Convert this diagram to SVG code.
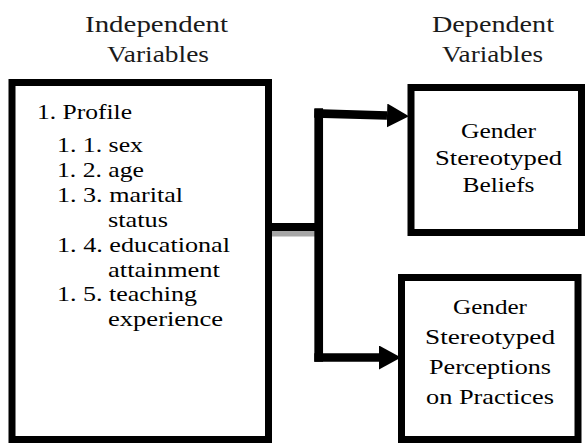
<svg xmlns="http://www.w3.org/2000/svg" width="587" height="444" viewBox="0 0 587 444">
  <style>
    .box { fill: #ffffff; stroke: #000000; stroke-width: 7; }
    .hdr { font-family: "Liberation Serif", serif; font-size: 23px; fill: #1a1a1a; text-anchor: middle; }
    .txt { font-family: "Liberation Serif", serif; font-size: 22px; fill: #000000; }
    .ctr { text-anchor: middle; }
    .wire { fill: none; stroke: #000000; stroke-linecap: butt; stroke-linejoin: miter; }
  </style>
  <defs>
    <marker id="arrow" markerUnits="userSpaceOnUse" viewBox="0 0 22 24" refX="0" refY="12" markerWidth="22" markerHeight="24" orient="auto">
      <path d="M0,0 L22,12 L0,24 Z" fill="#000000"/>
    </marker>
  </defs>
  <rect width="587" height="444" fill="#ffffff"/>

  <g id="headers">
    <text class="hdr" x="156.5" y="32" textLength="143" lengthAdjust="spacingAndGlyphs">Independent</text>
    <text class="hdr" x="158" y="62" textLength="102" lengthAdjust="spacingAndGlyphs">Variables</text>
    <text class="hdr" x="493" y="32" textLength="122" lengthAdjust="spacingAndGlyphs">Dependent</text>
    <text class="hdr" x="492.5" y="62" textLength="101" lengthAdjust="spacingAndGlyphs">Variables</text>
  </g>

  <g id="connectors">
    <rect x="272" y="230.5" width="43" height="6" fill="#a6a6a6"/>
    <path class="wire" d="M272,227 H318.7" stroke-width="8"/>
    <path class="wire" d="M318.7,108.3 V361.7" stroke-width="8.7"/>
    <path class="wire" d="M314.3,113.3 L387,115.5" stroke-width="8.7" marker-end="url(#arrow)"/>
    <path class="wire" d="M314.3,357.5 H379" stroke-width="8.3" marker-end="url(#arrow)"/>
  </g>

  <g id="independent">
    <rect class="box" x="12" y="82.5" width="256.5" height="357"/>
    <text class="txt" x="37" y="119" textLength="95" lengthAdjust="spacingAndGlyphs">1. Profile</text>
    <text class="txt" x="57" y="152" textLength="86" lengthAdjust="spacingAndGlyphs">1. 1. sex</text>
    <text class="txt" x="57" y="176.9" textLength="87" lengthAdjust="spacingAndGlyphs">1. 2. age</text>
    <text class="txt" x="57" y="201.8" textLength="126" lengthAdjust="spacingAndGlyphs">1. 3. marital</text>
    <text class="txt" x="108" y="226.7" textLength="60" lengthAdjust="spacingAndGlyphs">status</text>
    <text class="txt" x="57" y="251.6" textLength="173" lengthAdjust="spacingAndGlyphs">1. 4. educational</text>
    <text class="txt" x="108" y="276.5" textLength="112" lengthAdjust="spacingAndGlyphs">attainment</text>
    <text class="txt" x="57" y="301.4" textLength="140" lengthAdjust="spacingAndGlyphs">1. 5. teaching</text>
    <text class="txt" x="108" y="326.3" textLength="115" lengthAdjust="spacingAndGlyphs">experience</text>
  </g>

  <g id="beliefs">
    <rect class="box" x="411" y="87.5" width="170.5" height="145"/>
    <text class="txt ctr" x="498.5" y="138" textLength="75" lengthAdjust="spacingAndGlyphs">Gender</text>
    <text class="txt ctr" x="498.5" y="165" textLength="127" lengthAdjust="spacingAndGlyphs">Stereotyped</text>
    <text class="txt ctr" x="498.5" y="192" textLength="72" lengthAdjust="spacingAndGlyphs">Beliefs</text>
  </g>

  <g id="perceptions">
    <rect class="box" x="401.5" y="277.5" width="176.5" height="162"/>
    <text class="txt ctr" x="490" y="314" textLength="74" lengthAdjust="spacingAndGlyphs">Gender</text>
    <text class="txt ctr" x="490" y="344" textLength="130" lengthAdjust="spacingAndGlyphs">Stereotyped</text>
    <text class="txt ctr" x="490" y="374" textLength="122" lengthAdjust="spacingAndGlyphs">Perceptions</text>
    <text class="txt ctr" x="490" y="404" textLength="128" lengthAdjust="spacingAndGlyphs">on Practices</text>
  </g>
</svg>
